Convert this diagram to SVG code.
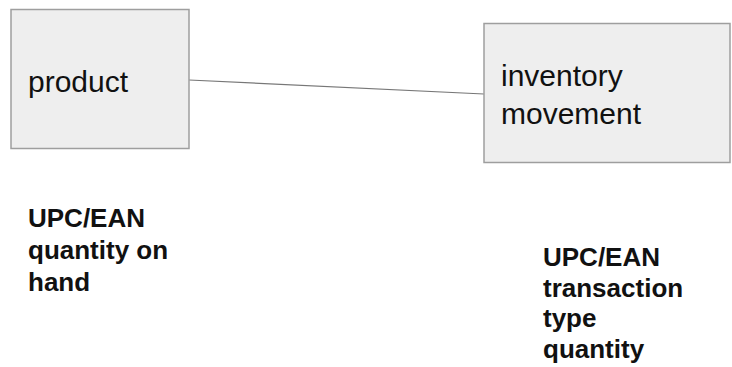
<svg xmlns="http://www.w3.org/2000/svg" width="732" height="367" viewBox="0 0 732 367">
<style>
.box{fill:#eeeeee;stroke:#9e9e9e;stroke-width:1.5}
.lbl{font-family:"Liberation Sans",Arial,sans-serif;font-size:30px;fill:#111}
.attr{font-family:"Liberation Sans",Arial,sans-serif;font-size:26px;font-weight:bold;fill:#111}
.conn{stroke:#777;stroke-width:1.2;fill:none}
</style>
<rect width="732" height="367" fill="#ffffff"/>
<g id="connectors">
<line class="conn" x1="189" y1="80" x2="484" y2="94"/>
</g>
<g id="product">
<rect class="box" x="11" y="9.5" width="178" height="139"/>
<text class="lbl" x="28" y="92">product</text>
</g>
<g id="inventory-movement">
<rect class="box" x="484" y="23.5" width="246" height="139"/>
<text class="lbl" x="501" y="86">inventory</text>
<text class="lbl" x="501" y="124">movement</text>
</g>
<g id="product-attrs">
<text class="attr" x="28" y="227">UPC/EAN</text>
<text class="attr" x="28" y="259">quantity on</text>
<text class="attr" x="28" y="291">hand</text>
</g>
<g id="movement-attrs">
<text class="attr" x="543" y="266">UPC/EAN</text>
<text class="attr" x="543" y="297">transaction</text>
<text class="attr" x="543" y="327">type</text>
<text class="attr" x="543" y="358">quantity</text>
</g>
</svg>
